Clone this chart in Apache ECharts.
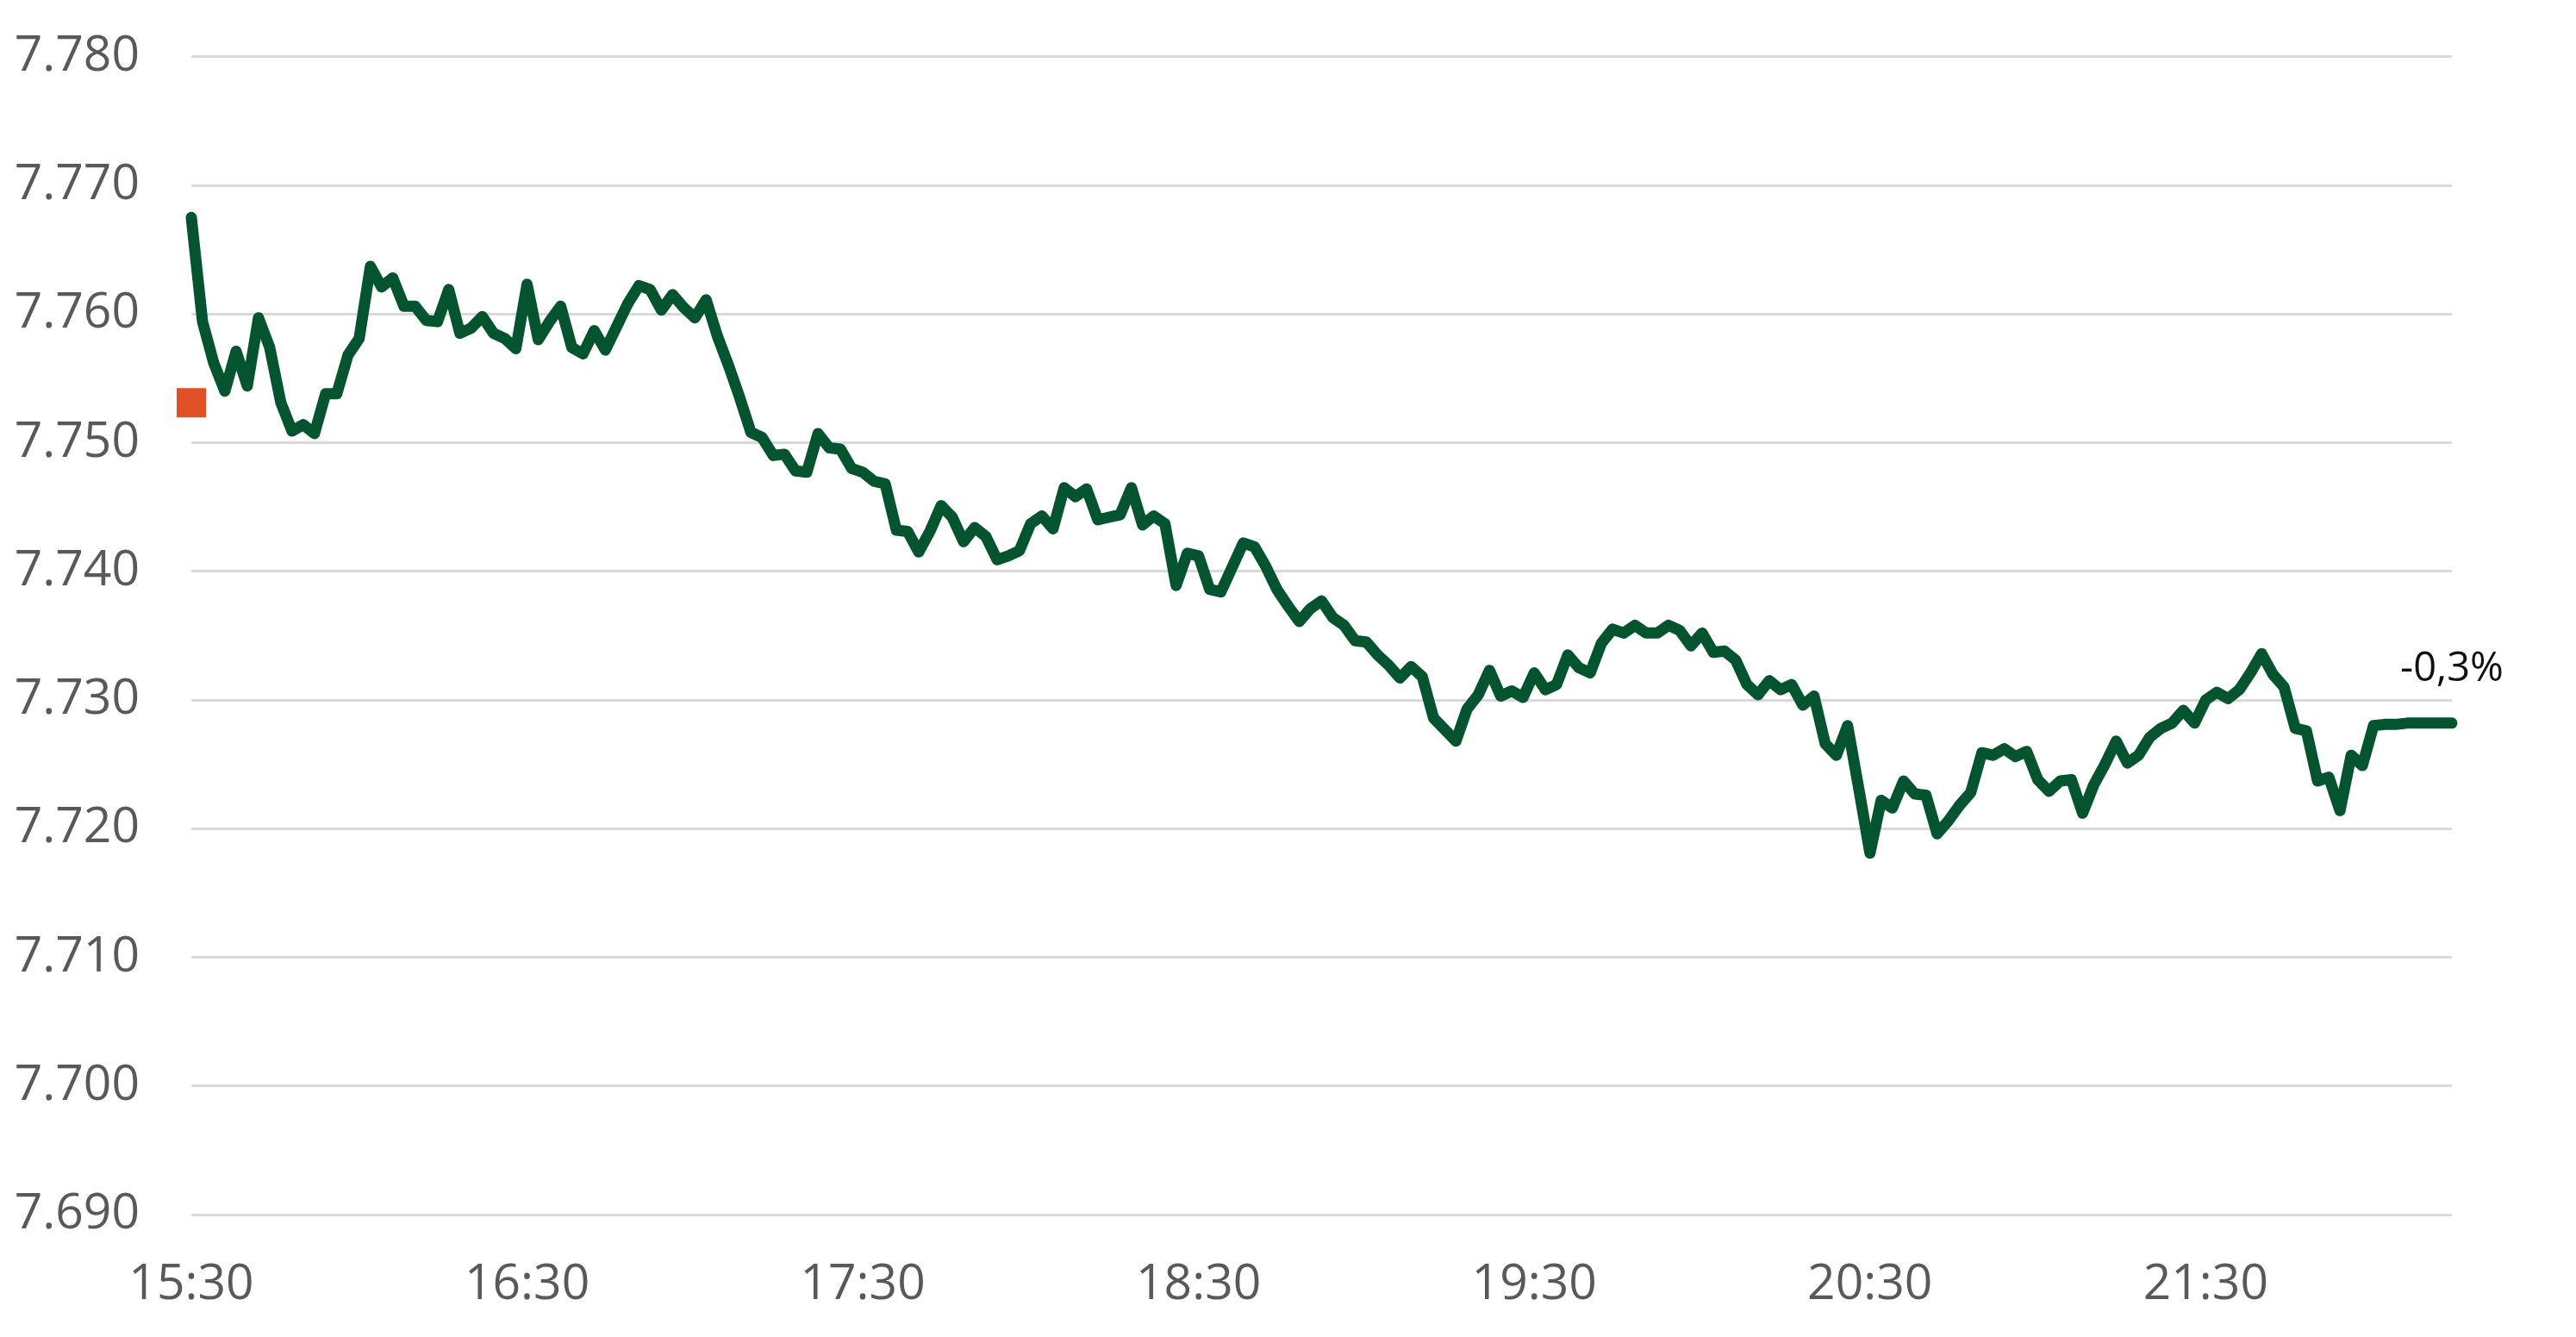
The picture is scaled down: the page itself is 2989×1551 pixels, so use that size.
<!DOCTYPE html>
<html>
<head>
<meta charset="utf-8">
<script src="https://cdn.jsdelivr.net/npm/echarts@6/dist/echarts.min.js"></script>
<style>
html,body{margin:0;padding:0;background:#fff;}
#chart{width:2989px;height:1551px;}
</style>
</head>
<body>
<div id="chart"></div>
<script>
// Time axis: 2-minute steps starting at 15:30
const startTime = "15:30";
const stepMinutes = 2;

// Exchange rate values
const rates = [
  7.7675, 7.7594, 7.7562, 7.7540, 7.7571, 7.7544, 7.7597, 7.7574, 7.7531, 7.7509,
  7.7514, 7.7507, 7.7538, 7.7538, 7.7568, 7.7581, 7.7637, 7.7621, 7.7628, 7.7606,
  7.7606, 7.7595, 7.7594, 7.7619, 7.7585, 7.7589, 7.7598, 7.7585, 7.7581, 7.7573,
  7.7623, 7.7580, 7.7594, 7.7606, 7.7574, 7.7569, 7.7587, 7.7572, 7.7590, 7.7608,
  7.7622, 7.7619, 7.7603, 7.7615, 7.7605, 7.7597, 7.7611, 7.7583, 7.7560, 7.7535,
  7.7508, 7.7504, 7.7490, 7.7491, 7.7478, 7.7477, 7.7507, 7.7496, 7.7495, 7.7480,
  7.7477, 7.7470, 7.7468, 7.7432, 7.7431, 7.7415, 7.7431, 7.7451, 7.7442, 7.7423,
  7.7434, 7.7427, 7.7409, 7.7412, 7.7416, 7.7437, 7.7443, 7.7433, 7.7465, 7.7458,
  7.7464, 7.7440, 7.7442, 7.7444, 7.7465, 7.7436, 7.7443, 7.7437, 7.7389, 7.7414,
  7.7412, 7.7386, 7.7384, 7.7403, 7.7422, 7.7419, 7.7404, 7.7386, 7.7373, 7.7361,
  7.7371, 7.7377, 7.7364, 7.7358, 7.7346, 7.7345, 7.7335, 7.7327, 7.7317, 7.7326,
  7.7318, 7.7286, 7.7277, 7.7268, 7.7293, 7.7304, 7.7323, 7.7303, 7.7307, 7.7302,
  7.7321, 7.7308, 7.7312, 7.7335, 7.7325, 7.7321, 7.7344, 7.7355, 7.7352, 7.7358,
  7.7352, 7.7352, 7.7358, 7.7354, 7.7342, 7.7352, 7.7337, 7.7338, 7.7331, 7.7312,
  7.7304, 7.7315, 7.7308, 7.7312, 7.7296, 7.7303, 7.7266, 7.7257, 7.7280, 7.7231,
  7.7181, 7.7222, 7.7216, 7.7237, 7.7227, 7.7226, 7.7196, 7.7206, 7.7218, 7.7228,
  7.7259, 7.7257, 7.7262, 7.7256, 7.7260, 7.7238, 7.7229, 7.7237, 7.7238, 7.7212,
  7.7234, 7.7250, 7.7268, 7.7251, 7.7257, 7.7271, 7.7278, 7.7282, 7.7292, 7.7282,
  7.7300, 7.7306, 7.7301, 7.7308, 7.7321, 7.7336, 7.7320, 7.7310, 7.7278, 7.7276,
  7.7237, 7.7240, 7.7214, 7.7257, 7.7249, 7.7280, 7.7281, 7.7281, 7.7282, 7.7282,
  7.7282, 7.7282, 7.7282
];

// Previous close marker (orange square)
const previousClose = 7.7531;

// Y axis ticks
const yMin = 7.690;
const yMax = 7.780;
const yStep = 0.010;

// Build time category labels
function buildTimes(start, step, n) {
  const [h, m] = start.split(":").map(Number);
  const out = [];
  for (let i = 0; i < n; i++) {
    const t = h * 60 + m + i * step;
    const hh = Math.floor(t / 60), mm = t % 60;
    out.push(String(hh).padStart(2, "0") + ":" + String(mm).padStart(2, "0"));
  }
  return out;
}
const times = buildTimes(startTime, stepMinutes, rates.length);

const lastIndex = rates.length - 1;
const lastRate = rates[lastIndex];
const changeText = ((lastRate / previousClose - 1) * 100).toFixed(1).replace(".", ",") + "%";

const chart = echarts.init(document.getElementById("chart"), null, { renderer: "canvas" });
const FONT = "Open Sans";

chart.setOption({
  animation: false,
  backgroundColor: "#ffffff",
  grid: { left: 222, right: 144, top: 65.7, bottom: 142, containLabel: false },
  xAxis: {
    type: "category",
    data: times,
    boundaryGap: false,
    axisLine: { show: false },
    axisTick: { show: false },
    splitLine: { show: false },
    axisLabel: {
      interval: 29,
      margin: 53,
      color: "#595959",
      fontFamily: FONT,
      fontSize: 57
    }
  },
  yAxis: {
    type: "value",
    min: yMin,
    max: yMax,
    interval: yStep,
    axisLine: { show: false },
    axisTick: { show: false },
    splitLine: { show: true, lineStyle: { color: "#D9D9D9", width: 3 } },
    axisLabel: {
      margin: 60,
      color: "#595959",
      fontFamily: FONT,
      fontSize: 57,
      formatter: v => v.toFixed(3)
    }
  },
  series: [
    {
      type: "line",
      data: rates,
      showSymbol: false,
      symbol: "none",
      lineStyle: { color: "#03542F", width: 13, cap: "round", join: "round" },
      z: 3
    },
    {
      type: "scatter",
      data: [[0, previousClose]],
      symbol: "rect",
      symbolSize: 34,
      itemStyle: { color: "#E04F26", opacity: 1 },
      z: 4
    },
    {
      type: "scatter",
      data: [[lastIndex, lastRate]],
      symbolSize: 1,
      itemStyle: { color: "rgba(0,0,0,0)", opacity: 1 },
      label: {
        show: true,
        position: "top",
        distance: 38,
        formatter: () => changeText,
        color: "#111111",
        fontFamily: FONT,
        fontSize: 47
      },
      z: 5
    }
  ]
});
</script>
</body>
</html>
